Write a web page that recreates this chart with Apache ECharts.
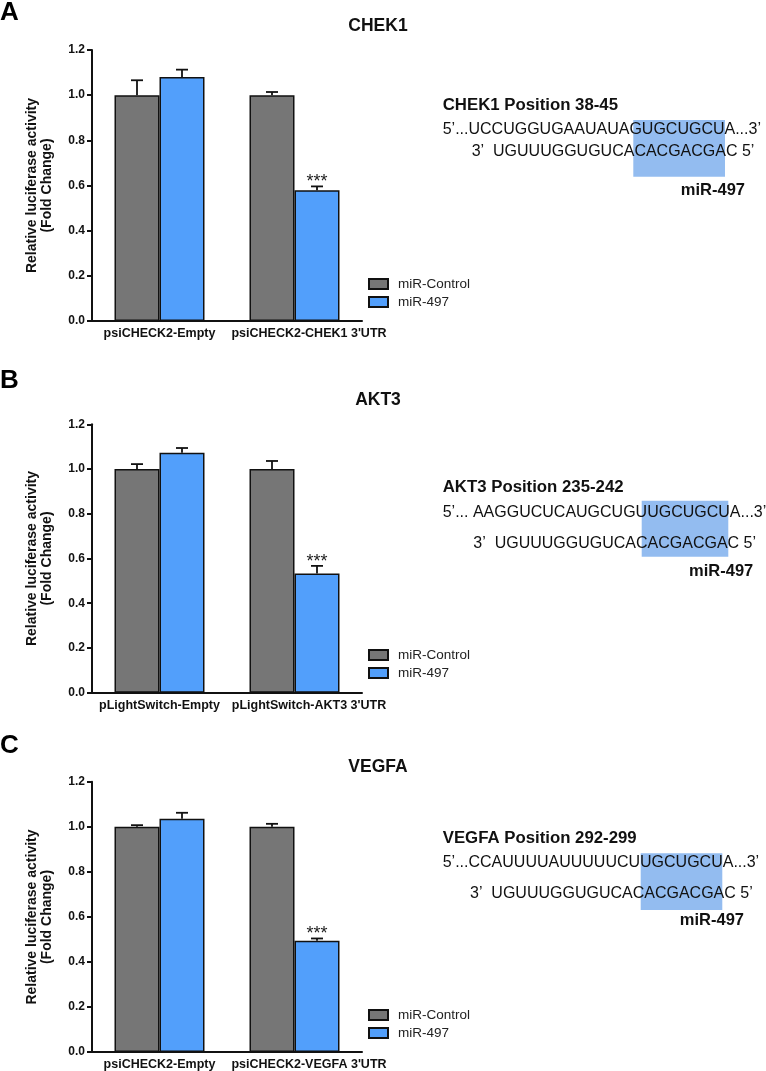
<!DOCTYPE html>
<html><head><meta charset="utf-8">
<script src="https://cdn.jsdelivr.net/npm/echarts@6/dist/echarts.min.js"></script>
<style>html,body{margin:0;padding:0;background:#fff}#c{width:766px;height:1071px}</style>
</head><body><div id="c"></div>
<script>
// ---- data ----
const seriesNames = ['miR-Control', 'miR-497'];
const yTicks = [0, 0.2, 0.4, 0.6, 0.8, 1.0, 1.2];

const titleA = 'CHEK1';
const categoriesA = ['psiCHECK2-Empty', "psiCHECK2-CHEK1 3'UTR"];
const controlA = [1.00, 1.00];
const controlErrA = [0.066, 0.014];
const mirA = [1.08, 0.579];
const mirErrA = [0.033, 0.017];
const sigA = ['', '***'];

const titleB = 'AKT3';
const categoriesB = ['pLightSwitch-Empty', "pLightSwitch-AKT3 3'UTR"];
const controlB = [1.00, 1.00];
const controlErrB = [0.022, 0.036];
const mirB = [1.073, 0.533];
const mirErrB = [0.021, 0.034];
const sigB = ['', '***'];

const titleC = 'VEGFA';
const categoriesC = ['psiCHECK2-Empty', "psiCHECK2-VEGFA 3'UTR"];
const controlC = [1.00, 1.00];
const controlErrC = [0.007, 0.013];
const mirC = [1.036, 0.494];
const mirErrC = [0.026, 0.010];
const sigC = ['', '***'];

const seqHeaders = ['CHEK1 Position 38-45', 'AKT3 Position 235-242', 'VEGFA Position 292-299'];
const seqTargets = ["5\u2019...UCCUGGUGAAUAUAGUGCUGCUA...3\u2019", "5\u2019... AAGGUCUCAUGCUGUUGCUGCUA...3\u2019", "5\u2019...CCAUUUUAUUUUUCUUGCUGCUA...3\u2019"];
const seqMiR = "3\u2019  UGUUUGGUGUCACACGACGAC 5\u2019";
const miRName = 'miR-497';
const panelLetters = ['A', 'B', 'C'];
const yAxisTitle = 'Relative luciferase activity\n(Fold Change)';

// ---- styles ----
const GRAY = '#767676', BLUE = '#529ffb', HL = '#93bcf0';
const FONT = '"Liberation Sans", Arial, Helvetica, sans-serif';
const BW = 45;

const panels = [
  {cats: categoriesA, c: controlA, ce: controlErrA, m: mirA, me: mirErrA, sig: sigA, title: titleA,
   top: 50, h: 271, titleY: 26, letterY: 14, legendTop: 272,
   hdrY: 105, l1Y: 129.3, l2Y: 151.7, l2X: 471.7, mirX: 745, mirY: 190, hl: [633.3, 120, 91.7, 56.7]},
  {cats: categoriesB, c: controlB, ce: controlErrB, m: mirB, me: mirErrB, sig: sigB, title: titleB,
   top: 424.3, h: 268.4, titleY: 400, letterY: 382, legendTop: 643,
   hdrY: 487.3, l1Y: 512.3, l2Y: 543.3, l2X: 473.3, mirX: 753.3, mirY: 571.7, hl: [641.7, 500.7, 86.6, 56]},
  {cats: categoriesC, c: controlC, ce: controlErrC, m: mirC, me: mirErrC, sig: sigC, title: titleC,
   top: 781.7, h: 270.6, titleY: 767, letterY: 747, legendTop: 1003,
   hdrY: 838.3, l1Y: 862.3, l2Y: 893.3, l2X: 470, mirX: 744, mirY: 920, hl: [640.7, 853.3, 81.6, 56.7]}
];

const grid = [], xAxis = [], yAxis = [], series = [], legend = [], graphic = [];

function errSeries(i, vals, errs, sig, offset) {
  return {
    type: 'custom', xAxisIndex: i, yAxisIndex: i, z: 5, clip: false, silent: true,
    data: vals.map((v, k) => [k, v, errs[k], sig[k]]),
    renderItem: function (params, api) {
      const base = api.coord([api.value(0), api.value(1)]);
      const top = api.coord([api.value(0), api.value(1) + api.value(2)]);
      const x = base[0] + offset;
      const s = {stroke: '#111', lineWidth: 1.8};
      const children = [
        {type: 'line', shape: {x1: x, y1: base[1], x2: x, y2: top[1]}, style: s},
        {type: 'line', shape: {x1: x - 6, y1: top[1], x2: x + 6, y2: top[1]}, style: s}
      ];
      const lab = api.value(3);
      if (lab) children.push({type: 'text', x: x, y: top[1] - 4,
        style: {text: lab, fill: '#222', font: '18px ' + FONT, align: 'center', verticalAlign: 'middle'}});
      return {type: 'group', children: children};
    }
  };
}

panels.forEach((p, i) => {
  grid.push({left: 92, top: p.top, width: 270, height: p.h});
  xAxis.push({
    type: 'category', gridIndex: i, data: p.cats,
    axisLine: {lineStyle: {color: '#111', width: 2}}, axisTick: {show: false},
    axisLabel: {color: '#111', fontWeight: 'bold', fontSize: 12.5, fontFamily: FONT, margin: 6, interval: 0,
      formatter: (v, idx) => idx === 1 ? '{r|' + v + '}' : '{l|' + v + '}',
      rich: {
        l: {color: '#111', fontWeight: 'bold', fontSize: 12.5, fontFamily: FONT},
        r: {color: '#111', fontWeight: 'bold', fontSize: 12.5, fontFamily: FONT, padding: [0, 0, 0, 29]}
      }}
  });
  yAxis.push({
    type: 'value', gridIndex: i, min: 0, max: 1.2, interval: 0.2,
    axisLine: {show: true, lineStyle: {color: '#111', width: 2}},
    axisTick: {show: true, length: 5, lineStyle: {color: '#111', width: 2}},
    splitLine: {show: false},
    axisLabel: {color: '#111', fontWeight: 'bold', fontSize: 12, fontFamily: FONT, margin: 7,
      formatter: v => v.toFixed(1)}
  });
  series.push({name: seriesNames[0], type: 'bar', xAxisIndex: i, yAxisIndex: i, data: p.c,
    barWidth: BW, barGap: '0%',
    itemStyle: {color: GRAY, borderColor: '#111', borderWidth: 1.5}});
  series.push({name: seriesNames[1], type: 'bar', xAxisIndex: i, yAxisIndex: i, data: p.m,
    barWidth: BW, barGap: '0%',
    itemStyle: {color: BLUE, borderColor: '#111', borderWidth: 1.5}});
  series.push(errSeries(i, p.c, p.ce, ['', ''], -BW / 2));
  series.push(errSeries(i, p.m, p.me, p.sig, BW / 2));
  legend.push({
    data: seriesNames, orient: 'vertical', left: 363, top: p.legendTop, itemGap: 4,
    itemWidth: 19, itemHeight: 10, icon: 'rect', selectedMode: false,
    formatter: n => '{t|' + n + '}',
    textStyle: {color: '#222', fontSize: 13.5, fontFamily: FONT,
      rich: {t: {color: '#222', fontSize: 13.5, fontFamily: FONT, padding: [0, 0, 0, 5]}}}
  });
  // panel letter, title, y axis name
  graphic.push({type: 'text', left: 0, top: p.letterY - 14,
    style: {text: panelLetters[i], font: 'bold 26px ' + FONT, fill: '#000'}});
  graphic.push({type: 'text', x: 378, y: p.titleY,
    style: {text: p.title, font: 'bold 17.5px ' + FONT, fill: '#111', align: 'center', verticalAlign: 'middle'}});
  graphic.push({type: 'text', x: 39.5, y: p.top + p.h / 2, rotation: Math.PI / 2,
    style: {text: yAxisTitle, font: 'bold 14px ' + FONT, fill: '#111', align: 'center',
      verticalAlign: 'middle', lineHeight: 15}});
  // sequence block
  graphic.push({type: 'rect', z: 1, shape: {x: p.hl[0], y: p.hl[1], width: p.hl[2], height: p.hl[3]},
    style: {fill: HL}});
  graphic.push({type: 'text', z: 2, x: 442.7, y: p.hdrY,
    style: {text: seqHeaders[i], font: 'bold 16.8px ' + FONT, fill: '#111', verticalAlign: 'middle'}});
  graphic.push({type: 'text', z: 2, x: 442.7, y: p.l1Y,
    style: {text: seqTargets[i], font: '16px ' + FONT, fill: '#111', verticalAlign: 'middle'}});
  graphic.push({type: 'text', z: 2, x: p.l2X, y: p.l2Y,
    style: {text: seqMiR, font: '16px ' + FONT, fill: '#111', verticalAlign: 'middle'}});
  graphic.push({type: 'text', z: 2, x: p.mirX, y: p.mirY,
    style: {text: miRName, font: 'bold 16.5px ' + FONT, fill: '#111', align: 'right', verticalAlign: 'middle'}});
});

const chart = echarts.init(document.getElementById('c'), null, {renderer: 'canvas'});
chart.setOption({
  animation: false, backgroundColor: '#fff',
  grid, xAxis, yAxis, series, legend, graphic
});
</script></body></html>
